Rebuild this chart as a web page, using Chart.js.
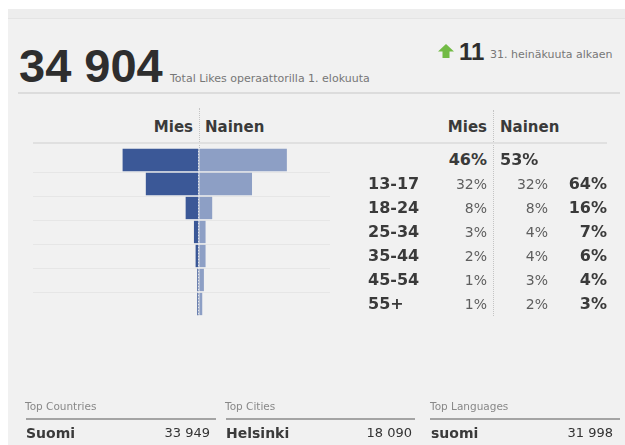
<!DOCTYPE html>
<html><head><meta charset="utf-8">
<script src="https://cdn.jsdelivr.net/npm/chart.js@4/dist/chart.umd.min.js"></script>
<style>
html,body{margin:0;padding:0;background:#fff;width:625px;height:445px;overflow:hidden;position:relative}
#panel{position:absolute;left:8px;top:9px;width:617px;height:436px;background:#f1f1f1}
#band{position:absolute;left:8px;top:9px;width:617px;height:9px;background:#ededed;border-bottom:1px solid #e4e4e4}
.t{position:absolute;line-height:0;white-space:nowrap;font-family:"DejaVu Sans",sans-serif;color:#333}
.small{font-size:11px;color:#777}
.hl{position:absolute;height:2px}
.vd{position:absolute;width:0;border-left:1px dotted #c4c4c4}
#chartBox{position:absolute;left:33px;top:148px;width:297px;height:168px}
</style></head>
<body>
<div id="panel"></div><div id="band"></div>
<div class="t" style="font-weight:bold;left:19px;top:65.5px;font-family:'Liberation Sans',sans-serif;font-size:47px;color:#2e2e2e">34 904</div>
<div class="t small" style="left:170px;top:79px">Total Likes operaattorilla 1. elokuuta</div>
<svg style="position:absolute;left:438px;top:44px" width="16" height="15" viewBox="0 0 16 15">
  <polygon points="8,0 16,7.5 11.5,7.5 11.5,14 4.5,14 4.5,7.5 0,7.5" fill="#72bb45"/>
</svg>
<div class="t" style="font-weight:bold;left:459px;top:51.5px;font-family:'Liberation Sans',sans-serif;font-size:24px;color:#2e2e2e">11</div>
<div class="t small" style="left:490px;top:55px">31. heinäkuuta alkaen</div>
<div class="hl" style="left:18px;top:92px;width:602px;background:#dcdcdc"></div>

<div id="hdr"></div>
<div class="vd" style="left:199px;top:108px;height:40px"></div>
<div class="vd" style="left:493px;top:110px;height:206px"></div>
<div class="hl" style="left:33px;top:142px;width:574px;background:#e0e0e0"></div>

<div id="chartBox"><canvas id="c"></canvas></div>
<div id="table"></div>
<div id="bottom"></div>

<script>
// ---- data ----
const genders = ['Mies', 'Nainen'];
const totalLabel = 'Yhteensä';
const ageGroups = ['13-17', '18-24', '25-34', '35-44', '45-54', '55+'];
const miesTotal = 46;
const nainenTotal = 53;
const miesPct = [32, 8, 3, 2, 1, 1];
const nainenPct = [32, 8, 4, 4, 3, 2];
const agePct = [64, 16, 7, 6, 4, 3];
const topGroups = ['Top Countries', 'Top Cities', 'Top Languages'];
const topNames = ['Suomi', 'Helsinki', 'suomi'];
const topValues = ['33 949', '18 090', '31 998'];

// ---- helpers ----
function txt(parent, s, css) {
  const d = document.createElement('div');
  d.className = 't';
  d.textContent = s;
  d.style.cssText = css;
  parent.appendChild(d);
  return d;
}
const W = 625;

// headers
const hdr = document.getElementById('hdr');
const hFont = 'font-weight:bold;font-size:15px;top:127px;color:#3a3a3a;';
txt(hdr, genders[0], hFont + 'right:' + (W - 193) + 'px');
txt(hdr, genders[1], hFont + 'left:205px');
txt(hdr, genders[0], hFont + 'right:' + (W - 487) + 'px');
txt(hdr, genders[1], hFont + 'left:500px');

// table
const tb = document.getElementById('table');
const bold16 = 'font-weight:bold;font-size:16px;color:#3a3a3a;';
const reg14 = 'font-size:14px;color:#5e5e5e;';
txt(tb, miesTotal + '%', bold16 + 'top:160px;right:' + (W - 487) + 'px');
txt(tb, nainenTotal + '%', bold16 + 'top:160px;left:500px');
ageGroups.forEach((g, i) => {
  const y = 184 + 24 * i;
  txt(tb, g, bold16 + 'top:' + y + 'px;left:368px');
  txt(tb, miesPct[i] + '%', reg14 + 'top:' + y + 'px;right:' + (W - 487) + 'px');
  txt(tb, nainenPct[i] + '%', reg14 + 'top:' + y + 'px;right:' + (W - 548) + 'px');
  txt(tb, agePct[i] + '%', bold16 + 'top:' + y + 'px;right:' + (W - 607) + 'px');
});

// bottom
const bt = document.getElementById('bottom');
const colX = [25, 225, 430];
const colR = [210, 412, 613];
const lineX = [[26, 216], [226, 415], [430, 620]];
topGroups.forEach((g, i) => {
  txt(bt, g, 'font-size:10.5px;color:#888;top:406px;left:' + colX[i] + 'px');
  const l = document.createElement('div');
  l.className = 'hl';
  l.style.cssText = 'left:' + lineX[i][0] + 'px;top:418px;height:1.5px;width:' + (lineX[i][1] - lineX[i][0]) + 'px;background:#a4a4a4';
  bt.appendChild(l);
  txt(bt, topNames[i], 'font-weight:bold;font-size:14px;color:#3a3a3a;top:433px;left:' + (colX[i] + 1) + 'px');
  txt(bt, topValues[i], 'font-size:13px;top:433px;right:' + (W - colR[i]) + 'px');
});

// ---- chart ----
const labels = [totalLabel, ...ageGroups];
new Chart(document.getElementById('c'), {
  type: 'bar',
  data: {
    labels: labels,
    datasets: [
      {
        label: genders[0],
        data: [miesTotal, ...miesPct].map(v => -v),
        backgroundColor: '#3b5897',
        borderWidth: 0,
        barPercentage: 0.93,
        categoryPercentage: 1
      },
      {
        label: genders[1],
        data: [nainenTotal, ...nainenPct],
        backgroundColor: '#8d9fc5',
        borderWidth: 0,
        barPercentage: 0.93,
        categoryPercentage: 1
      }
    ]
  },
  options: {
    indexAxis: 'y',
    responsive: true,
    maintainAspectRatio: false,
    animation: false,
    layout: { padding: 0 },
    plugins: { legend: { display: false }, tooltip: { enabled: false } },
    scales: {
      x: {
        type: 'linear',
        stacked: true,
        min: -100,
        max: 79,
        afterBuildTicks: s => { s.ticks = [{ value: 0 }]; },
        ticks: { display: false },
        grid: { drawTicks: false, color: 'rgba(235,235,235,0.9)', lineWidth: 1, z: 1 },
        border: { display: false, dash: [1, 2] }
      },
      y: {
        stacked: true,
        ticks: { display: false },
        grid: {
          drawTicks: false,
          offset: true,
          color: ctx => (ctx.index === 0 || ctx.index >= labels.length) ? 'rgba(0,0,0,0)' : '#e6e6e6'
        },
        border: { display: false }
      }
    }
  }
});
</script>
</body></html>
